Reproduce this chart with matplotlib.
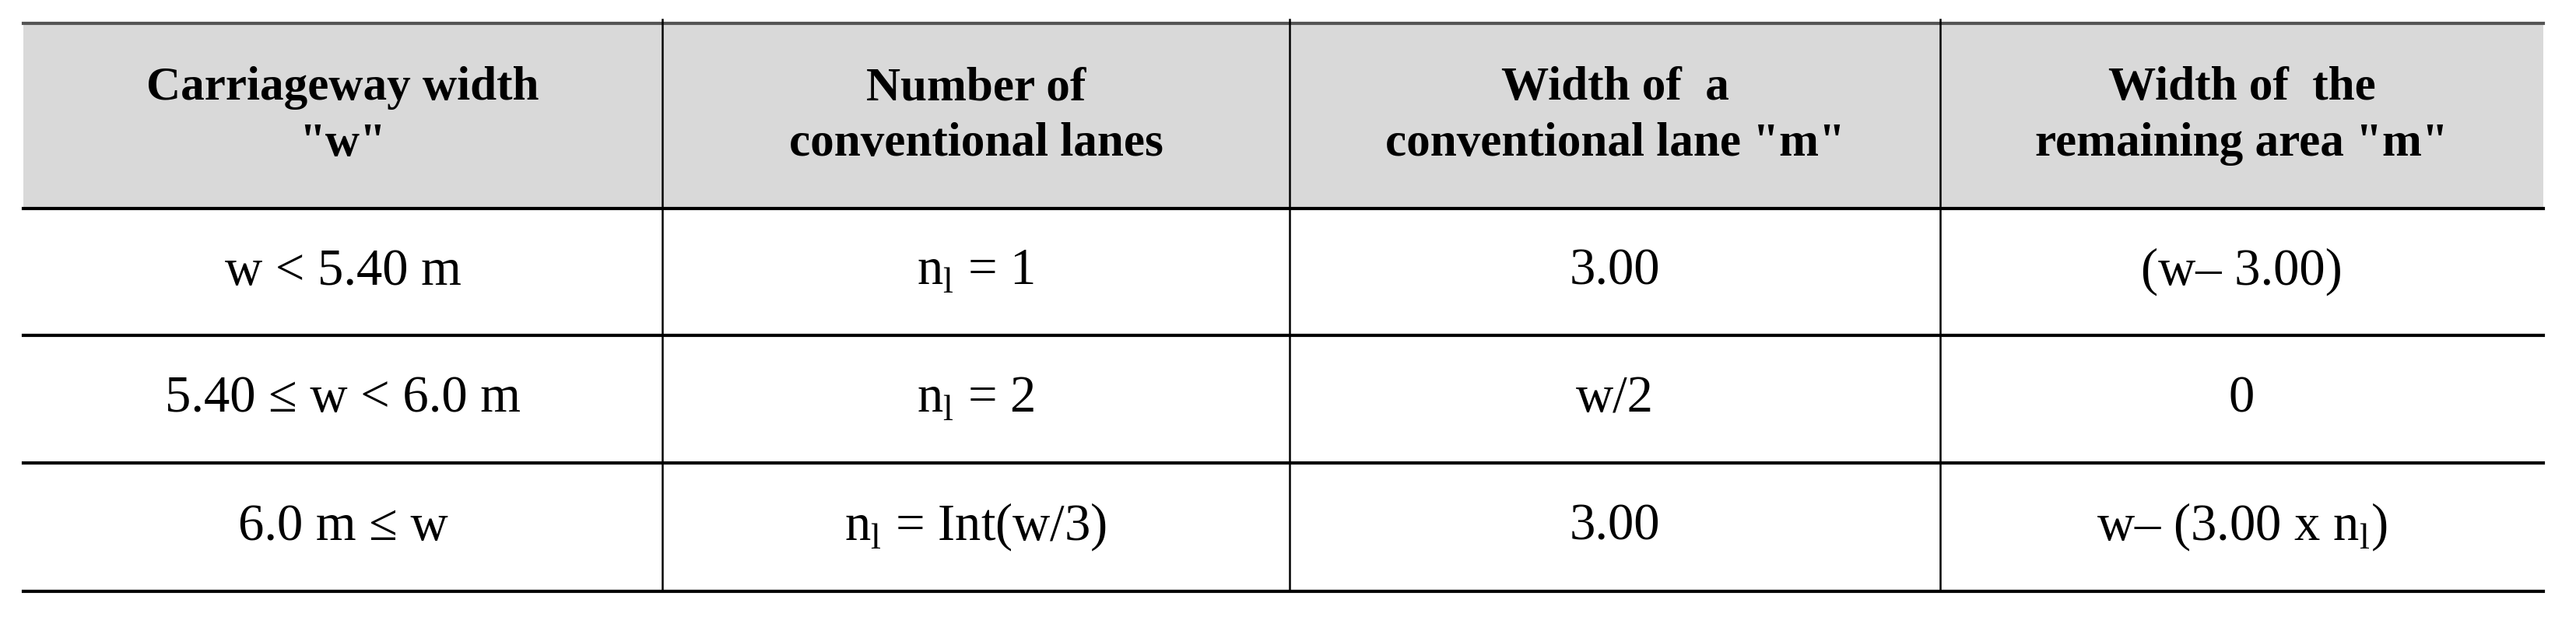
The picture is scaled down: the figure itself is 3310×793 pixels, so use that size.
import matplotlib.pyplot as plt

plt.rcParams['font.family'] = ['Liberation Serif', 'DejaVu Serif']
plt.rcParams['mathtext.fontset'] = 'custom'
plt.rcParams['mathtext.rm'] = 'Liberation Serif'

headers = ['Carriageway width\n"w"', 'Number of\nconventional lanes',
           'Width of  a\nconventional lane "m"', 'Width of  the\nremaining area "m"']
rows = [
    ['w < 5.40 m', r'n$_\mathregular{l}$ = 1', '3.00', '(w\u2013 3.00)'],
    ['5.40 \u2264 w < 6.0 m', r'n$_\mathregular{l}$ = 2', 'w/2', '0'],
    ['6.0 m \u2264 w', r'n$_\mathregular{l}$ = Int(w/3)', '3.00', 'w\u2013 (3.00 x n$_\\mathregular{l}$)'],
]

W, H = 3310, 793
col_x = [30, 851, 1657, 2493, 3268]
row_y = [30, 268, 431, 595, 760]

fig = plt.figure(figsize=(W / 100, H / 100), dpi=100)
ax = fig.add_axes([0, 0, 1, 1])
ax.set_xlim(0, W)
ax.set_ylim(H, 0)
ax.axis('off')

# header background
ax.fill_between([col_x[0], col_x[-1]], row_y[0], row_y[1], color='#d9d9d9', lw=0)

# horizontal rules
ax.plot([col_x[0], col_x[-1]], [row_y[0], row_y[0]], color='#555555', lw=3)
for y in row_y[1:]:
    ax.plot([col_x[0], col_x[-1]], [y, y], color='black', lw=3)
# vertical rules
for x in col_x[1:-1]:
    ax.plot([x, x], [row_y[0] - 5, row_y[-1]], color='black', lw=1.8)

for j, h in enumerate(headers):
    cx = (col_x[j] + col_x[j + 1]) / 2
    cy = (row_y[0] + row_y[1]) / 2
    ax.text(cx, cy, h, ha='center', va='center', fontsize=44, fontweight='bold',
            linespacing=1.35)

for i, r in enumerate(rows):
    cy = (row_y[i + 1] + row_y[i + 2]) / 2
    for j, t in enumerate(r):
        cx = (col_x[j] + col_x[j + 1]) / 2
        ax.text(cx, cy, t, ha='center', va='center', fontsize=48)

fig.savefig('out.png', dpi=100)
